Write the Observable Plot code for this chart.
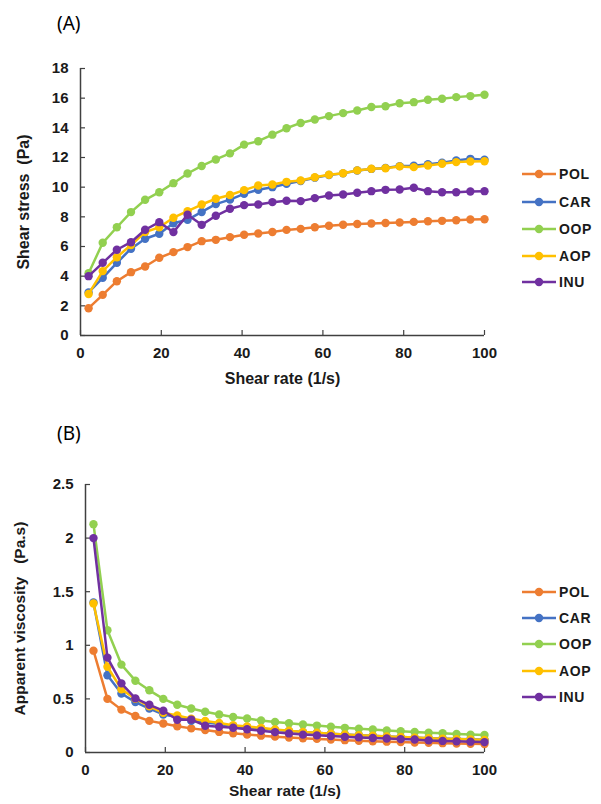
<!DOCTYPE html>
<html><head><meta charset="utf-8">
<script src="https://cdn.jsdelivr.net/npm/d3@7"></script>
<script src="https://cdn.jsdelivr.net/npm/@observablehq/plot@0.6"></script>
<style>
body{margin:0;background:#fff;}
#wrap{position:relative;width:601px;height:804px;font-family:"Liberation Sans",Arial,sans-serif;}
.panel{position:absolute;left:0;}
.tag{position:absolute;font-family:"Noto Sans",sans-serif;font-size:19px;color:#000;line-height:1;}
.item{position:absolute;height:20px;display:flex;align-items:center;font-weight:bold;font-size:14px;letter-spacing:0.6px;color:#1a1a1a;font-family:"Liberation Sans",Arial,sans-serif;}
.item svg{margin-right:2px;}
</style></head><body><div id="wrap"></div>
<script>
const names = ["POL", "CAR", "OOP", "AOP", "INU"];
const colors = ["#ED7D31", "#4472C4", "#92D050", "#FFC000", "#7030A0"];
const shearRate = [2,5.5,9,12.5,16,19.5,23,26.5,30,33.5,37,40.5,44,47.5,51,54.5,58,61.5,65,68.5,72,75.5,79,82.5,86,89.5,93,96.5,100];

// Panel A: shear stress (Pa)
const stressPOL = [1.84,2.74,3.66,4.27,4.65,5.24,5.62,5.96,6.36,6.45,6.63,6.79,6.88,6.98,7.12,7.19,7.3,7.4,7.47,7.52,7.55,7.58,7.62,7.66,7.7,7.73,7.77,7.82,7.84];
const stressCAR = [2.9,3.89,4.9,5.85,6.52,6.86,7.57,7.8,8.33,8.86,9.16,9.55,9.83,10.0,10.23,10.42,10.64,10.82,10.93,11.12,11.23,11.3,11.42,11.45,11.55,11.65,11.8,11.91,11.85];
const stressOOP = [4.2,6.25,7.3,8.32,9.15,9.66,10.27,10.92,11.43,11.87,12.28,12.87,13.1,13.54,13.97,14.33,14.56,14.79,14.99,15.17,15.4,15.46,15.66,15.73,15.89,15.96,16.07,16.14,16.23];
const stressAOP = [2.8,4.34,5.28,6.1,6.97,7.3,7.94,8.38,8.83,9.22,9.47,9.8,10.11,10.18,10.36,10.45,10.67,10.84,10.94,11.13,11.24,11.28,11.4,11.35,11.46,11.58,11.69,11.73,11.75];
const stressINU = [4.0,4.9,5.78,6.29,7.13,7.64,6.97,8.14,7.46,8.07,8.54,8.79,8.83,8.99,9.08,9.06,9.26,9.44,9.51,9.62,9.73,9.82,9.84,9.96,9.73,9.66,9.66,9.71,9.73];

// Panel B: apparent viscosity (Pa.s)
const viscPOL = [0.95,0.50,0.40,0.34,0.295,0.27,0.245,0.225,0.21,0.192,0.18,0.168,0.157,0.148,0.14,0.133,0.127,0.121,0.115,0.11,0.105,0.101,0.097,0.093,0.09,0.087,0.084,0.081,0.079];
const viscCAR = [1.40,0.72,0.55,0.47,0.41,0.355,0.33,0.295,0.28,0.265,0.248,0.236,0.224,0.211,0.2,0.192,0.184,0.176,0.168,0.162,0.156,0.15,0.145,0.139,0.134,0.13,0.127,0.123,0.119];
const viscOOP = [2.13,1.14,0.82,0.67,0.58,0.50,0.445,0.41,0.38,0.355,0.332,0.317,0.298,0.284,0.273,0.262,0.251,0.24,0.23,0.222,0.214,0.205,0.198,0.191,0.185,0.179,0.173,0.167,0.163];
const viscAOP = [1.39,0.80,0.59,0.50,0.43,0.37,0.345,0.315,0.295,0.275,0.255,0.242,0.23,0.214,0.203,0.192,0.184,0.176,0.168,0.162,0.156,0.149,0.144,0.139,0.133,0.128,0.125,0.121,0.118];
const viscINU = [2.0,0.885,0.645,0.505,0.445,0.39,0.305,0.307,0.25,0.24,0.231,0.217,0.203,0.19,0.178,0.167,0.16,0.153,0.146,0.141,0.135,0.13,0.125,0.121,0.113,0.108,0.104,0.101,0.097];

const xTicks = [0,20,40,60,80,100];
const stressTicks = [0,2,4,6,8,10,12,14,16,18];
const viscTicks = [0,0.5,1,1.5,2,2.5];

const wrap = document.getElementById("wrap");
const W = 601, MR = 117, TICK = 5;

function makeChart({series, yDomain, yTicks, yLabel, height, marginTop, marginBottom, marginLeft, yLabelOffset, xLabelOffset, labelSize}) {
  const data = [];
  names.forEach((n, k) => series[k].forEach((v, i) => data.push({series: n, x: shearRate[i], y: v})));
  const frameW = W - marginLeft - MR, frameH = height - marginTop - marginBottom;
  const seriesMarks = names.flatMap(n => [
    Plot.line(data.filter(d => d.series === n), {x: "x", y: "y", stroke: "series", strokeWidth: 2.5}),
    Plot.dot(data.filter(d => d.series === n), {x: "x", y: "y", fill: "series", r: 4.2})
  ]);
  return Plot.plot({
    width: W, height, marginLeft, marginRight: MR, marginTop, marginBottom,
    style: {fontFamily: "Liberation Sans, Arial, sans-serif", fontSize: "15px", fontWeight: "bold", color: "#1a1a1a", background: "white", overflow: "visible"},
    x: {domain: [0, 100]},
    y: {domain: yDomain},
    color: {domain: names, range: colors},
    marks: [
      Plot.axisX({ticks: xTicks, tickSize: 0, tickPadding: 12, fontSize: 15, label: null}),
      Plot.axisX({ticks: [], tickSize: 0, label: "Shear rate (1/s)", labelArrow: false, labelAnchor: "center", labelOffset: xLabelOffset, fontSize: labelSize}),
      Plot.axisY({ticks: yTicks, tickSize: 0, tickPadding: 12, tickFormat: d => String(d), fontSize: 15, label: null}),
      Plot.axisY({ticks: [], tickSize: 0, label: yLabel, labelArrow: false, labelAnchor: "center", labelOffset: yLabelOffset, fontSize: labelSize}),
      Plot.gridX(xTicks, {stroke: "#404040", strokeOpacity: 1, strokeWidth: 1.2, insetTop: frameH - TICK}),
      Plot.gridY(yTicks, {stroke: "#404040", strokeOpacity: 1, strokeWidth: 1.2, insetRight: frameW - TICK}),
      Plot.ruleX([0], {stroke: "#404040", strokeWidth: 1.5}),
      Plot.ruleY([yDomain[0]], {stroke: "#404040", strokeWidth: 1.5}),
      ...seriesMarks
    ]
  });
}

function addLegend(top) {
  names.forEach((n, k) => {
    const d = document.createElement("div");
    d.className = "item";
    d.style.left = "521px";
    d.style.top = (top[k] - 10) + "px";
    d.innerHTML = `<svg width="36" height="12"><line x1="1" x2="35" y1="6" y2="6" stroke="${colors[k]}" stroke-width="2.5"/><circle cx="18" cy="6" r="4.2" fill="${colors[k]}"/></svg>${n}`;
    wrap.appendChild(d);
  });
}

function addTag(text, left, top) {
  const t = document.createElement("div");
  t.className = "tag"; t.textContent = text;
  t.style.left = left + "px"; t.style.top = top + "px";
  wrap.appendChild(t);
}

const chartA = makeChart({
  series: [stressPOL, stressCAR, stressOOP, stressAOP, stressINU],
  yDomain: [0, 18], yTicks: stressTicks, yLabel: "Shear stress\u00a0\u00a0(Pa)",
  height: 400, marginTop: 68, marginBottom: 65, marginLeft: 80, yLabelOffset: 63, xLabelOffset: 48, labelSize: 16
});
chartA.classList.add("panel"); chartA.style.top = "0px";
wrap.appendChild(chartA);

const chartB = makeChart({
  series: [viscPOL, viscCAR, viscOOP, viscAOP, viscINU],
  yDomain: [0, 2.5], yTicks: viscTicks, yLabel: "Apparent viscosity\u00a0\u00a0\u00a0(Pa.s)",
  height: 404, marginTop: 84, marginBottom: 52, marginLeft: 85, yLabelOffset: 72, xLabelOffset: 43, labelSize: 15.5
});
chartB.classList.add("panel"); chartB.style.top = "400px";
wrap.appendChild(chartB);

addTag("(A)", 57, 14);
addTag("(B)", 57, 424);
addLegend([174, 202, 229, 256, 282]);
addLegend([592, 618, 644, 671, 697]);
</script>
</body></html>
